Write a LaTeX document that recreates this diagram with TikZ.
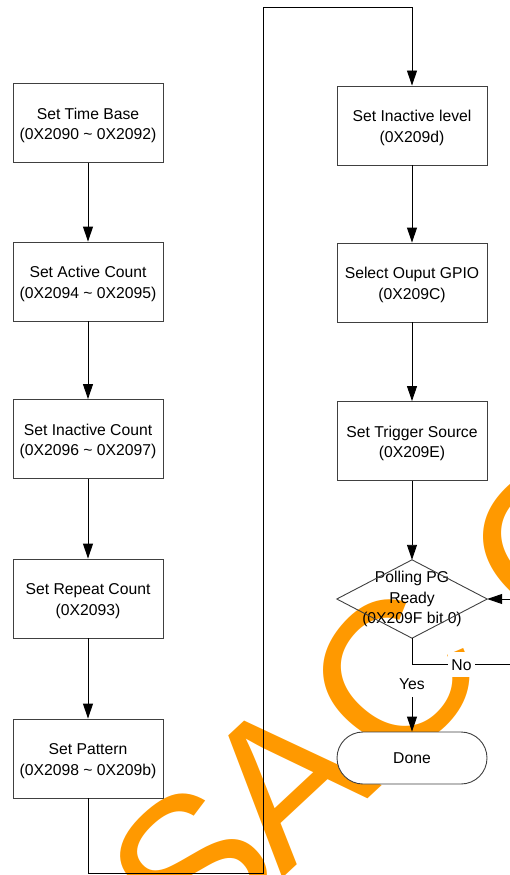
\documentclass[tikz,border=0pt]{standalone}
\usepackage{fontspec}
\setmainfont{Liberation Sans}
\usetikzlibrary{arrows.meta}
\definecolor{wmorange}{RGB}{255,153,0}
\definecolor{edgegray}{RGB}{64,64,64}
% raises the first line of a two-line box label
\newcommand{\firstline}{\rule{0pt}{16pt}}
\begin{document}
\begin{tikzpicture}[x=1pt,y=-1pt,
  every node/.style={font=\fontsize{15.7}{20.7}\selectfont},
  stepbox/.style={draw=edgegray, fill=white, line width=0.9pt,
    minimum width=150pt, minimum height=79pt, align=center, inner sep=0pt},
  endbox/.style={draw=edgegray, fill=white, line width=0.9pt,
    rounded corners=26pt, minimum width=150pt, minimum height=52pt, inner sep=0pt},
  flow/.style={draw=black, line width=0.9pt, -{Triangle[length=15pt,width=10pt]}},
  wmark/.style={text=wmorange, font=\fontsize{205}{205}\selectfont,
    inner sep=0pt, rotate=43},
  tag/.style={fill=white, inner sep=0pt, anchor=base}
]
\useasboundingbox (0,0) rectangle (510,875);
\clip (0,0) rectangle (510,875);

% background watermark
\node[wmark] (wmS) at (192,868) {S};
\node[wmark] (wmA) at (284,780) {A};
\node[wmark, rotate=7] (wmC) at (394,676) {C};
\node[wmark] (wmO) at (558,540) {O};

% left column
\node[stepbox] (tb)  at (88,123)   {\firstline Set Time Base\\(0X2090 \char`\~{} 0X2092)};
\node[stepbox] (ac)  at (88,281.5) {\firstline Set Active Count\\(0X2094 \char`\~{} 0X2095)};
\node[stepbox] (ic)  at (88,439)   {\firstline Set Inactive Count\\(0X2096 \char`\~{} 0X2097)};
\node[stepbox] (rc)  at (88,598.5) {\firstline Set Repeat Count\\(0X2093)};
\node[stepbox] (pat) at (88,758.5) {\firstline Set Pattern\\(0X2098 \char`\~{} 0X209b)};

% right column
\node[stepbox] (il) at (412,125.5) {\firstline Set Inactive level\\(0X209d)};
\node[stepbox] (gp) at (412,282.5) {\firstline Select Ouput GPIO\\(0X209C)};
\node[stepbox] (ts) at (412,441)   {\firstline Set Trigger Source\\(0X209E)};
\node[minimum width=150pt, minimum height=78pt, align=center, inner sep=0pt]
  (poll) at (412,599) {Polling PG\\Ready\\(0X209F bit 0)};
\draw[edgegray, line width=0.9pt] (poll.north) -- (poll.east) -- (poll.south) -- (poll.west) -- cycle;
\node[endbox] (done) at (412,758) {Done};

% route points
\coordinate (b1) at (88,873.5);
\coordinate (b2) at (263,873.5);
\coordinate (t1) at (263,7);
\coordinate (t2) at (412,7);
\coordinate (j)  at (412,664);
\coordinate (r1) at (530,664);
\coordinate (r2) at (530,599);

% connectors
\draw[flow] (tb) -- (ac);
\draw[flow] (ac) -- (ic);
\draw[flow] (ic) -- (rc);
\draw[flow] (rc) -- (pat);
\draw[flow] (pat.south) -- (b1) -- (b2) -- (t1) -- (t2) -- (il.north);
\draw[flow] (il) -- (gp);
\draw[flow] (gp) -- (ts);
\draw[flow] (ts) -- (poll.north);
\draw[flow] (poll.south) -- (done.north);
\draw[flow] (j) -- (r1) -- (r2) -- (poll.east);

% branch labels
\node[tag, text height=24.5pt, text depth=7.5pt, inner xsep=2pt] (yes) at (412,689.5) {Yes};
\node[tag, text height=18pt, text depth=7pt, inner xsep=3.5pt] (no) at (461.5,670) {No};
\end{tikzpicture}
\end{document}
